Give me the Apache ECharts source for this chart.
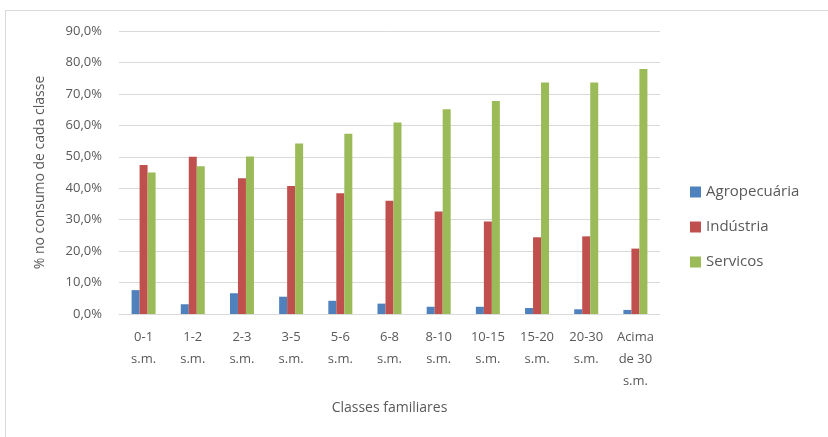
<!DOCTYPE html>
<html>
<head>
<meta charset="utf-8">
<script src="https://cdn.jsdelivr.net/npm/echarts@6/dist/echarts.min.js"></script>
<style>
html,body{margin:0;padding:0;background:#fff;}
#chart{width:828px;height:437px;}
</style>
</head>
<body>
<div id="chart"></div>
<script>
var categories = ['0-1\ns.m.', '1-2\ns.m.', '2-3\ns.m.', '3-5\ns.m.', '5-6\ns.m.', '6-8\ns.m.', '8-10\ns.m.', '10-15\ns.m.', '15-20\ns.m.', '20-30\ns.m.', 'Acima\nde 30\ns.m.'];
var agropecuaria = [7.6, 3.1, 6.6, 5.5, 4.2, 3.3, 2.3, 2.3, 1.9, 1.5, 1.3];
var industria = [47.4, 50.0, 43.2, 40.7, 38.4, 36.0, 32.6, 29.4, 24.4, 24.7, 20.8];
var servicos = [45.0, 47.0, 50.1, 54.2, 57.3, 60.9, 65.1, 67.7, 73.6, 73.6, 77.9];
var yTickLabels = ['0,0%', '10,0%', '20,0%', '30,0%', '40,0%', '50,0%', '60,0%', '70,0%', '80,0%', '90,0%'];

var FONT = '"Open Sans", sans-serif';
var TXT = '#595959';
var chart = echarts.init(document.getElementById('chart'), null, {renderer: 'canvas'});
chart.setOption({
  backgroundColor: '#fff',
  animation: false,
  textStyle: {fontFamily: FONT},
  graphic: [{
    type: 'rect',
    shape: {x: 5.5, y: 10.5, width: 900, height: 600},
    style: {fill: 'none', stroke: '#d9d9d9', lineWidth: 1},
    silent: true
  }],
  grid: {left: 119, right: 168, top: 31, bottom: 123, containLabel: false},
  legend: {
    orient: 'vertical',
    left: 690,
    top: 184,
    padding: 0,
    itemWidth: 11,
    itemHeight: 11,
    itemGap: 19,
    icon: 'rect',
    textStyle: {fontFamily: FONT, fontSize: 15, color: TXT, lineHeight: 16},
    data: ['Agropecuária', 'Indústria', 'Servicos']
  },
  xAxis: {
    type: 'category',
    data: categories,
    name: 'Classes familiares',
    nameLocation: 'middle',
    nameGap: 87,
    nameTextStyle: {fontFamily: FONT, fontSize: 14, color: TXT},
    axisLine: {show: true, lineStyle: {color: '#d9d9d9', width: 1}},
    axisTick: {show: false},
    axisLabel: {fontFamily: FONT, fontSize: 13, color: TXT, lineHeight: 22, margin: 12, interval: 0}
  },
  yAxis: {
    type: 'value',
    min: 0,
    max: 90,
    interval: 10,
    name: '% no consumo de cada classe',
    nameLocation: 'middle',
    nameRotate: 90,
    nameGap: 72,
    nameTextStyle: {fontFamily: FONT, fontSize: 14, color: TXT},
    axisLine: {show: false},
    axisTick: {show: false},
    splitLine: {lineStyle: {color: '#d9d9d9', width: 1}},
    axisLabel: {
      fontFamily: FONT, fontSize: 13, color: TXT, margin: 17,
      formatter: function (v) { return yTickLabels[Math.round(v / 10)]; }
    }
  },
  series: [
    {name: 'Agropecuária', type: 'bar', data: agropecuaria, barWidth: 8, barGap: '0%', itemStyle: {color: '#4f81bd'}},
    {name: 'Indústria', type: 'bar', data: industria, barWidth: 8, barGap: '0%', itemStyle: {color: '#c0504d'}},
    {name: 'Servicos', type: 'bar', data: servicos, barWidth: 8, barGap: '0%', itemStyle: {color: '#9bbb59'}}
  ]
});
</script>
</body>
</html>
